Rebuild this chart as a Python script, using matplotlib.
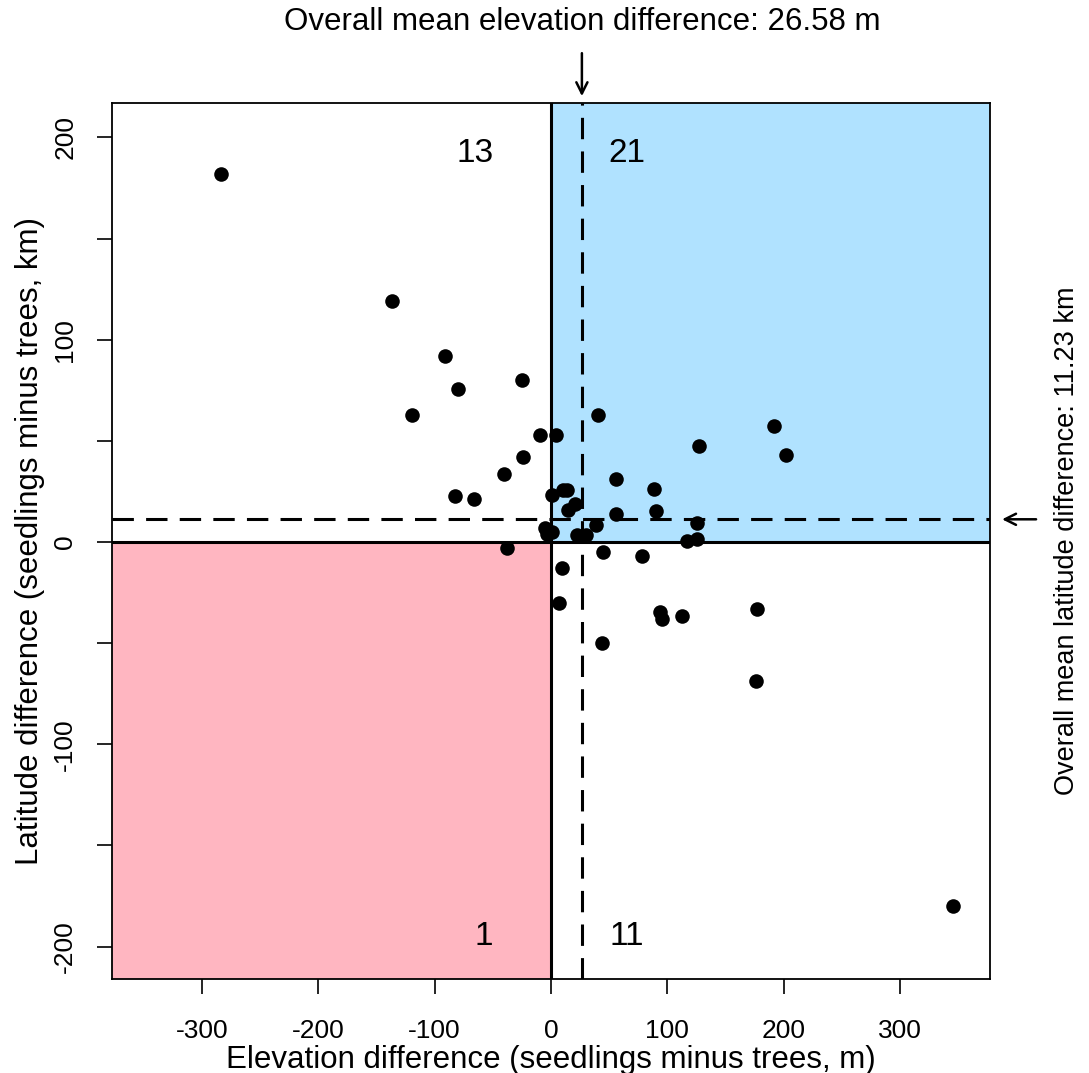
import matplotlib
matplotlib.use("Agg")
import matplotlib.pyplot as plt
from matplotlib.patches import Rectangle

plt.rcParams['font.family'] = ['Liberation Sans', 'DejaVu Sans']
plt.rcParams['axes.unicode_minus'] = False

# elevation difference (m) and latitude difference (km), seedlings minus trees
elev_diff = [-283.6, -137.0, -90.9, -24.7, -79.7, -119.8, -9.2, -23.8, -40.7,
             -82.3, -66.5, -5.4, -3.7,
             -38.1,
             40.7, 4.3, 55.6, 88.6, 0.5, 10.1, 13.5, 20.4, 14.4, 55.6, 90.0,
             38.7, 1.1, 22.1, 29.8, 191.7, 127.3, 201.8, 125.8, 117.2, 125.8,
             44.5, 78.5, 9.2, 6.9, 94.0, 95.4, 112.9, 177.4, 176.3, 43.6, 345.7]
lat_diff = [182.1, 119.2, 92.0, 80.0, 75.6, 62.7, 52.7, 42.1, 33.6,
            22.9, 21.2, 6.8, 3.9,
            -2.8,
            62.7, 52.7, 31.3, 26.2, 23.2, 25.7, 25.7, 18.6, 15.8, 13.8, 15.5,
            8.2, 4.9, 3.5, 3.5, 57.4, 47.7, 42.8, 9.5, 0.6, 1.3,
            -5.1, -6.8, -13.0, -30.0, -34.7, -37.9, -36.5, -33.2, -68.6, -49.7, -180.1]

mean_elev = 26.58
mean_lat = 11.23
quad_counts = {'ul': 13, 'ur': 21, 'll': 1, 'lr': 11}

xlim = (-377.5, 377.5)
ylim = (-216, 217)

fig = plt.figure(figsize=(10.89, 10.73), dpi=100)
ax = fig.add_axes([0.1028, 0.0876, 0.9091 - 0.1028, 0.904 - 0.0876])
ax.set_xlim(xlim)
ax.set_ylim(ylim)

# shaded quadrants
ax.add_patch(Rectangle((xlim[0], ylim[0]), -xlim[0], -ylim[0],
                       facecolor='#FFB6C1', edgecolor='none', zorder=0))
ax.add_patch(Rectangle((0, 0), xlim[1], ylim[1],
                       facecolor='#B0E2FF', edgecolor='none', zorder=0))

ax.axvline(0, color='black', lw=2.2, zorder=1)
ax.axhline(0, color='black', lw=2.2, zorder=1)
ax.axvline(mean_elev, color='black', lw=2.2, ls=(0, (7, 4)), zorder=1)
ax.axhline(mean_lat, color='black', lw=2.2, ls=(0, (7, 4)), zorder=1)

ax.scatter(elev_diff, lat_diff, s=110, color='black', zorder=3, linewidths=0)

# quadrant counts
ax.text(-65, 192, str(quad_counts['ul']), fontsize=24, ha='center', va='center')
ax.text(65, 192, str(quad_counts['ur']), fontsize=24, ha='center', va='center')
ax.text(-58, -195, str(quad_counts['ll']), fontsize=24, ha='center', va='center')
ax.text(65, -195, str(quad_counts['lr']), fontsize=24, ha='center', va='center')

ax.set_xticks([-300, -200, -100, 0, 100, 200, 300])
ax.set_yticks([-200, -150, -100, -50, 0, 50, 100, 150, 200])
ax.set_yticklabels(['-200', '', '-100', '', '0', '', '100', '', '200'],
                   rotation=90, va='center')
ax.tick_params(axis='both', labelsize=19, length=11, width=1.2)
ax.tick_params(axis='x', pad=18)
ax.tick_params(axis='y', pad=14)
for sp in ax.spines.values():
    sp.set_linewidth(1.3)

ax.set_xlabel('Elevation difference (seedlings minus trees, m)', fontsize=22.5,
              va='center')
ax.xaxis.set_label_coords(0.5, -0.092)
ax.set_ylabel('Latitude difference (seedlings minus trees, km)', fontsize=22.5,
              va='center')
ax.yaxis.set_label_coords(-0.093, 0.5)

# annotations for overall means
ax.annotate('', xy=(mean_elev, ylim[1] + 2), xytext=(mean_elev, ylim[1] + 26),
            xycoords='data', textcoords='data', annotation_clip=False,
            arrowprops=dict(arrowstyle='->', lw=1.8, color='black',
                            mutation_scale=20))
ax.text(mean_elev, 1.0925, 'Overall mean elevation difference: %.2f m' % mean_elev,
        transform=ax.get_xaxis_transform(), ha='center', va='center',
        fontsize=22.5, clip_on=False)

ax.annotate('', xy=(xlim[1] + 8, mean_lat), xytext=(xlim[1] + 42, mean_lat),
            xycoords='data', textcoords='data', annotation_clip=False,
            arrowprops=dict(arrowstyle='->', lw=1.8, color='black',
                            mutation_scale=20))
ax.text(1.088, 0.5, 'Overall mean latitude difference: %.2f km' % mean_lat,
        transform=ax.transAxes, ha='center', va='center', rotation=90,
        fontsize=19.5, clip_on=False)

fig.savefig('out.png', dpi=100)
